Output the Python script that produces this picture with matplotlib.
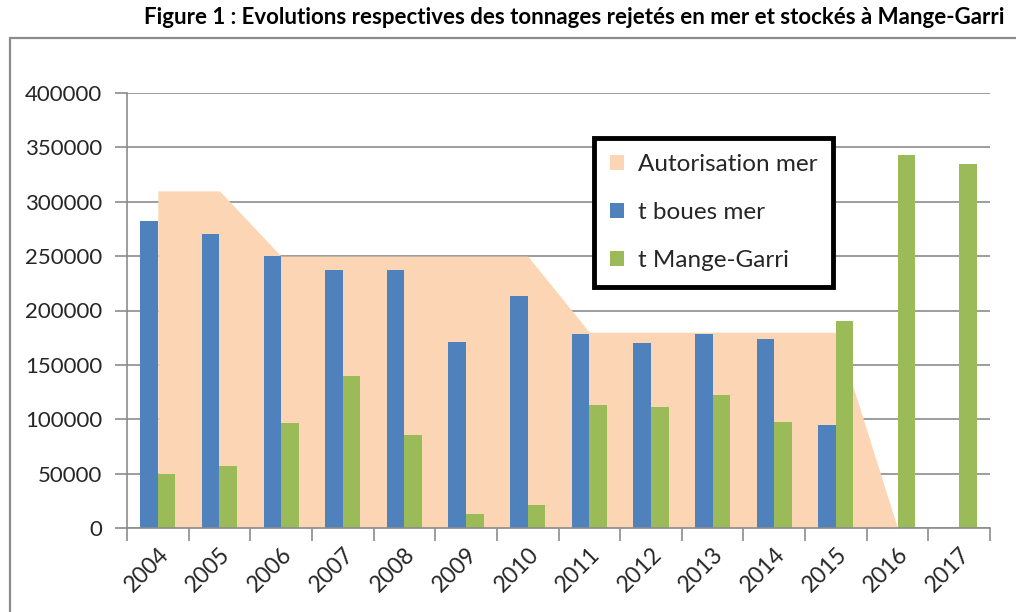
import matplotlib
matplotlib.use("Agg")
import matplotlib.pyplot as plt
from matplotlib.patches import Rectangle
import numpy as np

years = ["2004", "2005", "2006", "2007", "2008", "2009", "2010",
         "2011", "2012", "2013", "2014", "2015", "2016", "2017"]
autorisation_mer = [310000, 310000, 250000, 250000, 250000, 250000, 250000,
                    180000, 180000, 180000, 180000, 180000, 0, np.nan]
boues_mer = [282000, 270000, 250000, 237000, 237000, 171000, 213000,
             178000, 170000, 178000, 174000, 95000, np.nan, np.nan]
mange_garri = [50000, 57000, 96500, 140000, 85500, 13000, 21000,
               113000, 111000, 122500, 97500, 190500, 343000, 335000]
y_ticks = [0, 50000, 100000, 150000, 200000, 250000, 300000, 350000, 400000]

COLORS = {
    "area": "#FCD5B4",
    "blue": "#4F81BD",
    "green": "#9BBB59",
    "grid": "#8C8C8C",
    "text": "#262626",
}

W, H = 1016, 612
plt.rcParams["font.family"] = ["Lato", "DejaVu Sans"]
fig = plt.figure(figsize=(W / 100, H / 100), dpi=100, facecolor="white")

# outer chart frame (runs off the right and bottom edges)
fig.patches.append(Rectangle((10 / W, -0.05), 1.1, 1.05 - 38 / H,
                             transform=fig.transFigure, fill=False,
                             edgecolor="#8C8C8C", linewidth=1.6))

fig.text(1005 / W, 1 - 18 / H,
         "Figure 1 : Evolutions respectives des tonnages rejetés en mer et stockés à Mange-Garri",
         ha="right", va="center", fontsize=16, fontweight="bold", color="black")

ax = fig.add_axes([127 / W, 1 - 528 / H, (990 - 127) / W, (528 - 93) / H])
x = np.arange(len(years))
bw = 0.285

ax.fill_between(x, autorisation_mer, color=COLORS["area"], linewidth=0,
                zorder=1, label="Autorisation mer")
ax.bar(x - bw / 2, boues_mer, width=bw, color=COLORS["blue"], zorder=2,
       label="t boues mer")
ax.bar(x + bw / 2, mange_garri, width=bw, color=COLORS["green"], zorder=2,
       label="t Mange-Garri")

ax.set_xlim(-0.5, len(years) - 0.5)
ax.set_ylim(0, 400000)
ax.set_yticks(y_ticks)
ax.set_yticklabels([str(v) for v in y_ticks])
ax.set_axisbelow(True)
ax.grid(axis="y", color=COLORS["grid"], linewidth=1.2, zorder=0)

ax.set_xticks(np.arange(len(years) + 1) - 0.5)
ax.set_xticklabels([])
ax.set_xticks(x, minor=True)
ax.set_xticklabels(years, minor=True, rotation=45, ha="right",
                   rotation_mode="anchor", fontsize=16.5, color=COLORS["text"])
ax.tick_params(axis="x", which="major", length=9, width=1.2, color=COLORS["grid"])
ax.tick_params(axis="x", which="minor", length=0, pad=11)
ax.tick_params(axis="y", length=9, width=1.2, color=COLORS["grid"],
               labelsize=16, labelcolor=COLORS["text"], pad=9)

for side in ("top", "right"):
    ax.spines[side].set_visible(False)
for side in ("left", "bottom"):
    ax.spines[side].set_color(COLORS["grid"])
    ax.spines[side].set_linewidth(1.2)

leg = ax.legend(loc="upper left", bbox_to_anchor=(594 / W, 1 - 138 / H),
                bbox_transform=fig.transFigure, borderaxespad=0,
                fontsize=17.5, handlelength=0.6, handleheight=0.6,
                handletextpad=0.55, labelspacing=1.12, borderpad=0.65,
                fancybox=False, framealpha=1)
leg.get_frame().set_edgecolor("black")
leg.get_frame().set_linewidth(3.5)
for t in leg.get_texts():
    t.set_color(COLORS["text"])

fig.savefig("out.png", dpi=100)
